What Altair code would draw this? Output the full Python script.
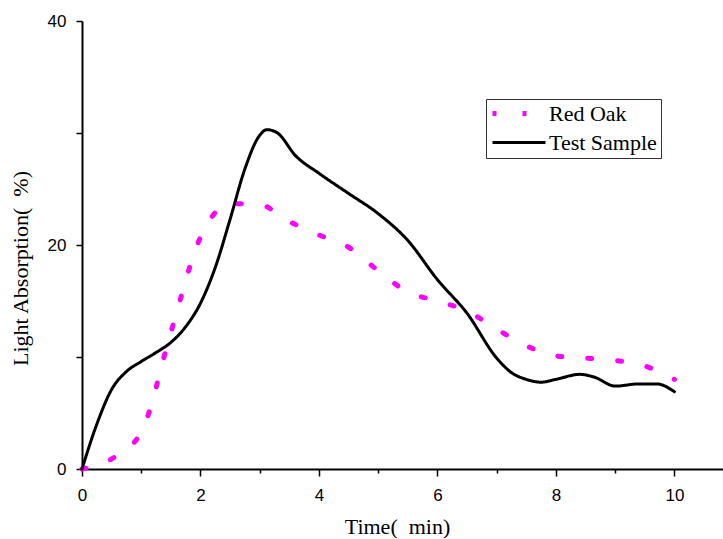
import altair as alt
import pandas as pd

series_names = ["Red Oak", "Test Sample"]

red_oak_t = [0, 0.5, 1, 1.5, 2, 2.25, 2.5, 3, 3.5, 4, 4.5, 5, 5.5, 6, 6.5, 7, 7.5, 8, 8.5, 9, 9.5, 10]
red_oak_v = [0, 0.9, 3.3, 12.2, 20.7, 22.9, 23.7, 23.6, 22.1, 20.9, 19.8, 17.7, 15.8, 15.0, 14.1, 12.5, 11.0, 10.1, 9.9, 9.7, 9.2, 8.0]

test_t = [0, 0.25, 0.5, 0.75, 1.0, 1.25, 1.5, 1.75, 2.0, 2.25, 2.5, 2.75, 3.0, 3.12, 3.3, 3.6,
          4.0, 4.5, 5.0, 5.5, 6.0, 6.5, 7.0, 7.25, 7.5, 7.75, 8.0, 8.4, 8.65, 9.0, 9.4, 9.7, 10]
test_v = [0, 4.0, 7.1, 8.7, 9.6, 10.4, 11.3, 12.7, 14.8, 18.0, 22.3, 26.8, 29.8, 30.3, 30.0, 28.0,
          26.4, 24.6, 22.8, 20.4, 16.9, 13.9, 9.9, 8.6, 8.0, 7.75, 8.0, 8.45, 8.2, 7.4, 7.6, 7.6, 6.9]

x_ticks = [0, 1, 2, 3, 4, 5, 6, 7, 8, 9, 10]
y_ticks = [0, 10, 20, 30, 40]

df = pd.concat([
    pd.DataFrame({"t": red_oak_t, "v": red_oak_v, "series": series_names[0]}),
    pd.DataFrame({"t": test_t, "v": test_v, "series": series_names[1]}),
])

chart = alt.Chart(df).mark_line(interpolate="monotone", strokeCap="round").encode(
    x=alt.X("t:Q", scale=alt.Scale(domain=[0, 10.82], nice=False, zero=False),
            axis=alt.Axis(values=x_ticks, title="Time(\u00a0\u00a0min)",
                          labelExpr="datum.value % 2 === 0 ? datum.label : ''",
                          tickSize={"condition": {"test": "datum.value % 2 === 0", "value": 7}, "value": 4},
                          labelPadding=11, labelFlush=False,
                          titleX=315, titleY=64, titleBaseline="alphabetic",
                          titleAnchor="start", titleAlign="center")),
    y=alt.Y("v:Q", scale=alt.Scale(domain=[0, 40], nice=False),
            axis=alt.Axis(values=y_ticks, title="Light Absorption(\u00a0\u00a0%)",
                          labelExpr="datum.value % 20 === 0 ? datum.label : ''",
                          tickSize=6, labelPadding=10, labelFlush=False,
                          titleAngle=270, titleX=-55, titleY=247, titleBaseline="alphabetic",
                          titleAlign="center")),
    color=alt.Color("series:N", scale=alt.Scale(domain=series_names, range=["#FF00FF", "#000000"]),
                    legend=alt.Legend(title=None, orient="none", legendX=404, legendY=78,
                                      symbolType="stroke", symbolSize=2809, clipHeight=21,
                                      labelFont="Liberation Serif", labelFontSize=22, labelColor="black",
                                      labelOffset=1, rowPadding=6, padding=4,
                                      strokeColor="#333333", fillColor="white")),
    strokeDash=alt.StrokeDash("series:N", scale=alt.Scale(domain=series_names, range=[[4, 26], [1, 0]])),
    strokeWidth=alt.StrokeWidth("series:N", scale=alt.Scale(domain=series_names, range=[5, 3])),
).properties(
    width=641, height=448,
    autosize="none",
    padding={"left": 82, "top": 21, "right": 0, "bottom": 70},
).configure_view(stroke=None).configure_axis(
    grid=False, domainColor="black", domainWidth=2, tickColor="black", tickWidth=1.5,
    labelFont="Liberation Sans", labelFontSize=17, labelColor="black",
    titleFont="Liberation Serif", titleFontSize=22, titleFontWeight="normal", titleColor="black",
)

chart.save("out.html", embed_options={"renderer": "svg", "actions": False})
